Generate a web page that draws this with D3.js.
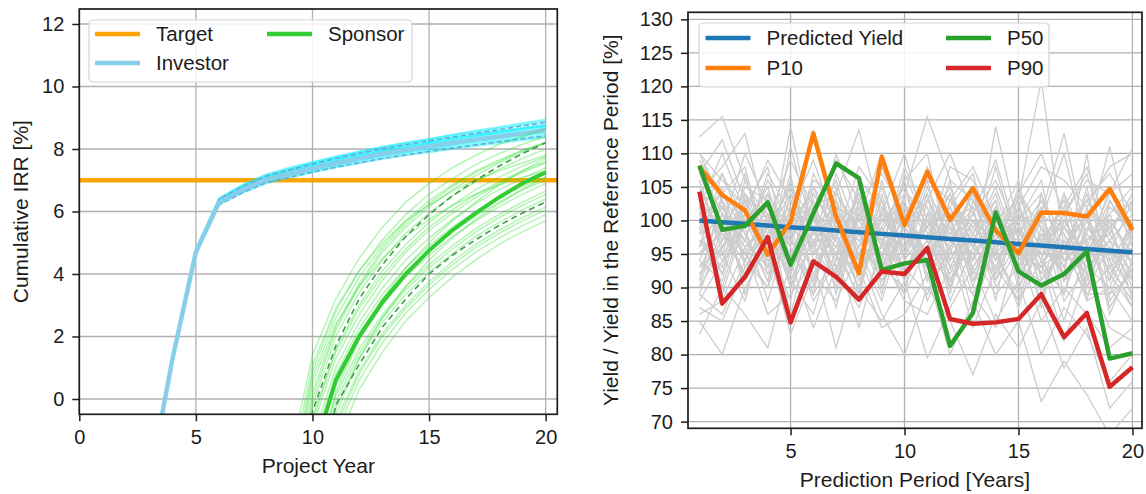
<!DOCTYPE html>
<html>
<head>
<meta charset="utf-8">
<script src="https://cdn.jsdelivr.net/npm/d3@7"></script>
<style>
  body { margin: 0; background: #fff; }
  svg { display: block; }
  text { font-family: "Liberation Sans", Arial, Helvetica, sans-serif; fill: #1c1c1c; }
</style>
</head>
<body>
<svg id="chart" width="1146" height="494"></svg>
<script>
// ---------- Left panel: cumulative IRR per project year ----------
const irrTicksX = [0, 5, 10, 15, 20];
const irrTicksY = [0, 2, 4, 6, 8, 10, 12];
const targetIrr = 7;

const investorYears = [3, 4, 5, 6, 7, 8, 9, 10, 11, 12, 13, 14, 15, 16, 17, 18, 19, 20];
const investorMedian = [-2.7, 1.3, 4.7, 6.3, 6.7, 7.02, 7.2, 7.38, 7.55, 7.7, 7.85, 7.97, 8.08, 8.2, 8.3, 8.4, 8.5, 8.6];
const investorHigh = [-2.66, 1.34, 4.76, 6.4, 6.8, 7.13, 7.33, 7.52, 7.7, 7.86, 8.01, 8.14, 8.26, 8.38, 8.5, 8.62, 8.74, 8.85];
const investorLow = [-2.74, 1.26, 4.66, 6.22, 6.6, 6.92, 7.09, 7.26, 7.42, 7.56, 7.7, 7.81, 7.92, 8.03, 8.13, 8.23, 8.33, 8.42];
const investorRuns = [
  [-2.65, 1.35, 4.8, 6.42, 6.85, 7.18, 7.4, 7.58, 7.76, 7.92, 8.07, 8.2, 8.32, 8.44, 8.55, 8.66, 8.77, 8.88],
  [-2.7, 1.3, 4.75, 6.38, 6.8, 7.12, 7.33, 7.52, 7.7, 7.86, 8.0, 8.13, 8.25, 8.37, 8.48, 8.58, 8.68, 8.78],
  [-2.7, 1.3, 4.72, 6.34, 6.75, 7.07, 7.27, 7.46, 7.63, 7.79, 7.93, 8.05, 8.17, 8.28, 8.39, 8.49, 8.59, 8.69],
  [-2.7, 1.3, 4.68, 6.27, 6.66, 6.97, 7.16, 7.34, 7.5, 7.65, 7.79, 7.9, 8.01, 8.12, 8.22, 8.31, 8.41, 8.5],
  [-2.75, 1.25, 4.65, 6.22, 6.6, 6.9, 7.08, 7.25, 7.41, 7.55, 7.68, 7.8, 7.9, 8.0, 8.1, 8.19, 8.28, 8.37],
  [-2.72, 1.28, 4.7, 6.3, 6.72, 7.05, 7.25, 7.43, 7.61, 7.77, 7.92, 8.05, 8.18, 8.3, 8.42, 8.53, 8.64, 8.74],
  [-2.68, 1.32, 4.71, 6.32, 6.7, 7.0, 7.18, 7.35, 7.51, 7.66, 7.8, 7.92, 8.04, 8.15, 8.26, 8.36, 8.46, 8.56],
  [-2.66, 1.34, 4.78, 6.4, 6.83, 7.15, 7.36, 7.56, 7.74, 7.9, 8.05, 8.19, 8.32, 8.45, 8.58, 8.7, 8.82, 8.94],
  [-2.7, 1.3, 4.69, 6.26, 6.64, 6.95, 7.13, 7.3, 7.46, 7.6, 7.73, 7.85, 7.96, 8.06, 8.16, 8.25, 8.34, 8.43],
  [-2.67, 1.33, 4.74, 6.36, 6.78, 7.1, 7.3, 7.49, 7.67, 7.83, 7.97, 8.1, 8.22, 8.34, 8.45, 8.55, 8.65, 8.75]
];

const sponsorYears = [9, 10, 11, 12, 13, 14, 15, 16, 17, 18, 19, 20];
const sponsorMedian = [-6.0, -1.85, 0.6, 2.0, 3.1, 4.0, 4.75, 5.4, 5.95, 6.45, 6.9, 7.25];
const sponsorHigh = [-4.0, -0.4, 1.7, 3.2, 4.3, 5.2, 5.9, 6.5, 7.0, 7.45, 7.85, 8.2];
const sponsorLow = [-9.0, -4.0, -0.2, 1.1, 2.3, 3.2, 4.0, 4.6, 5.1, 5.55, 5.95, 6.3];
const sponsorRuns = [
  [-2.0, 1.4, 3.2, 4.5, 5.5, 6.3, 6.9, 7.4, 7.8, 8.15, 8.4, 8.65],
  [-3.0, 0.9, 2.8, 4.1, 5.1, 5.9, 6.55, 7.05, 7.5, 7.85, 8.15, 8.4],
  [-4.0, 0.2, 2.3, 3.7, 4.8, 5.6, 6.25, 6.8, 7.25, 7.6, 7.95, 8.2],
  [-4.5, -0.2, 2.0, 3.4, 4.45, 5.3, 5.95, 6.5, 6.95, 7.35, 7.7, 8.0],
  [-5.0, -0.6, 1.6, 3.0, 4.1, 4.95, 5.65, 6.2, 6.7, 7.1, 7.45, 7.75],
  [-5.5, -0.9, 1.3, 2.7, 3.8, 4.7, 5.4, 5.95, 6.45, 6.9, 7.25, 7.55],
  [-6.0, -1.3, 1.0, 2.45, 3.55, 4.45, 5.15, 5.75, 6.25, 6.7, 7.05, 7.4],
  [-6.5, -1.6, 0.8, 2.25, 3.35, 4.2, 4.9, 5.5, 6.0, 6.45, 6.8, 7.1],
  [-7.0, -2.0, 0.4, 1.9, 3.0, 3.9, 4.6, 5.2, 5.7, 6.15, 6.55, 6.9],
  [-7.5, -2.4, 0.1, 1.6, 2.7, 3.6, 4.3, 4.9, 5.45, 5.9, 6.3, 6.65],
  [-8.0, -2.8, -0.3, 1.3, 2.45, 3.35, 4.05, 4.65, 5.2, 5.65, 6.05, 6.4],
  [-8.5, -3.2, -0.7, 0.9, 2.1, 3.0, 3.75, 4.4, 4.95, 5.4, 5.8, 6.15],
  [-9.0, -3.6, -1.1, 0.6, 1.8, 2.75, 3.5, 4.15, 4.7, 5.15, 5.55, 5.9],
  [-9.5, -4.0, -1.5, 0.3, 1.5, 2.5, 3.25, 3.9, 4.45, 4.95, 5.35, 5.7],
  [-3.5, 0.5, 2.4, 3.6, 4.5, 5.2, 5.75, 6.2, 6.55, 6.85, 7.1, 7.3],
  [-8.0, -2.6, 0.2, 1.9, 3.2, 4.2, 5.0, 5.7, 6.3, 6.85, 7.3, 7.7],
  [-2.5, 1.1, 2.9, 4.1, 5.0, 5.7, 6.2, 6.65, 7.0, 7.3, 7.55, 7.8],
  [-9.0, -3.3, -0.5, 1.3, 2.6, 3.6, 4.45, 5.15, 5.75, 6.25, 6.7, 7.1],
  [-3.2, 0.7, 2.6, 3.9, 4.9, 5.7, 6.35, 6.85, 7.3, 7.65, 7.95, 8.2],
  [-5.2, -0.7, 1.5, 2.9, 3.95, 4.8, 5.5, 6.05, 6.55, 6.95, 7.3, 7.6],
  [-6.8, -1.8, 0.6, 2.1, 3.2, 4.05, 4.75, 5.35, 5.85, 6.3, 6.7, 7.0],
  [-7.8, -2.6, -0.1, 1.45, 2.6, 3.5, 4.2, 4.8, 5.35, 5.8, 6.2, 6.55],
  [-4.2, 0.0, 2.2, 3.6, 4.7, 5.5, 6.15, 6.7, 7.15, 7.55, 7.9, 8.2],
  [-8.8, -3.4, -0.9, 0.8, 2.0, 2.9, 3.65, 4.3, 4.85, 5.3, 5.7, 6.05]
];

// ---------- Right panel: yield ratio per prediction period ----------
const periods = [1, 2, 3, 4, 5, 6, 7, 8, 9, 10, 11, 12, 13, 14, 15, 16, 17, 18, 19, 20];
const periodTicksX = [5, 10, 15, 20];
const yieldTicksY = [70, 75, 80, 85, 90, 95, 100, 105, 110, 115, 120, 125, 130];
const predictedYield = [100, 99.75, 99.5, 99.25, 99, 98.75, 98.5, 98.25, 98, 97.75, 97.5, 97.25, 97, 96.75, 96.5, 96.25, 96, 95.75, 95.5, 95.25];
const p10 = [108.0, 103.8, 101.5, 94.9, 99.8, 113.0, 100.6, 92.1, 109.5, 99.3, 107.3, 100.1, 104.8, 98.5, 95.1, 101.2, 101.1, 100.6, 104.7, 98.6];
const p50 = [108.2, 98.6, 99.2, 102.7, 93.4, 101.1, 108.5, 106.3, 92.6, 93.6, 94.1, 81.3, 86.2, 101.2, 92.4, 90.3, 92.0, 95.4, 79.4, 80.2];
const p90 = [104.3, 87.6, 91.6, 97.5, 84.8, 93.9, 91.6, 88.2, 92.4, 92.0, 95.9, 85.3, 84.6, 84.8, 85.3, 89.0, 82.6, 86.2, 75.2, 78.1];
const yieldRuns = [
  [112.5, 115.5, 106, 100, 109, 102, 104, 113.5, 100, 104, 115.5, 106, 103, 98, 104, 110, 101, 106, 104, 110.8],
  [85, 80, 90, 96, 83, 92, 88, 95, 86, 80, 90, 85, 77, 86, 81, 88, 78, 84, 72, 76],
  [104, 108, 113, 99, 105, 100, 109, 103, 107, 101, 106, 103, 108, 100, 103, 121, 96, 101, 99, 103],
  [95, 98, 94, 103, 96, 113.5, 101, 97, 93, 98, 95, 100, 94, 114, 99, 94, 104, 90, 96, 91],
  [100, 104, 108, 95, 114, 98, 95, 104, 96, 108, 100, 96, 104, 97, 93, 101, 113, 97, 100, 95],
  [90, 96, 99, 88, 100, 93, 105, 91, 99, 93, 97, 91, 97, 103, 92, 97, 92, 110, 88, 93],
  [108, 101, 97, 106, 99, 105, 97, 108, 103, 95, 108, 99, 92, 99, 106, 91, 99, 95, 103, 98],
  [97, 92, 104, 100, 90, 101, 91, 99, 89, 103, 93, 103, 99, 95, 89, 104, 94, 100, 92, 87],
  [83, 90, 86, 81, 94, 84, 93, 87, 95, 88, 86, 93, 89, 84, 96, 85, 90, 86, 81, 84],
  [102, 110, 101, 109, 103, 96, 110, 100, 110, 97, 103, 110, 101, 106, 98, 103, 96, 103, 107, 101],
  [93, 99, 92, 97, 88, 104, 99, 94, 98, 106, 91, 95, 105, 91, 101, 99, 88, 93, 97, 90],
  [106, 95, 105, 103, 97, 91, 103, 89, 104, 92, 101, 88, 96, 108, 95, 93, 101, 107, 94, 99],
  [88, 94, 97, 92, 102, 97, 87, 102, 92, 99, 95, 99, 86, 97, 103, 89, 97, 88, 90, 85],
  [110, 106, 102, 108, 92, 107, 100, 96, 101, 110, 98, 92, 100, 93, 100, 106, 91, 98, 111, 97],
  [96, 102, 95, 90, 106, 95, 107, 98, 91, 95, 105, 97, 94, 102, 90, 96, 103, 92, 99, 102],
  [99, 89, 100, 104, 98, 88, 94, 105, 97, 89, 96, 106, 91, 99, 97, 92, 95, 101, 86, 94],
  [91, 103, 89, 98, 101, 100, 96, 92, 100, 102, 88, 97, 102, 88, 104, 95, 85, 96, 93, 88],
  [105, 97, 107, 94, 95, 103, 89, 101, 94, 104, 102, 90, 98, 104, 94, 101, 98, 91, 101, 105],
  [87, 85, 93, 99, 91, 86, 98, 90, 85, 91, 79.5, 87, 93, 85, 91, 80, 87, 83, 76, 80],
  [101, 107, 98, 91, 104, 99, 92, 106, 102, 96, 99, 104, 96, 92, 99, 87, 100, 94, 105, 96],
  [94, 91, 103, 101, 93, 102, 97, 88, 106, 94, 104, 89, 103, 96, 87, 98, 93, 105, 91, 100],
  [98, 100, 91, 96, 107, 90, 102, 96, 88, 100, 94, 101, 90, 101, 96, 102, 89, 99, 95, 89],
  [86, 88, 96, 86, 89, 94, 81, 93, 84, 86, 92, 80, 88, 80, 85, 73, 79, 74, 68, 72],
  [103, 99, 110, 102, 97, 106, 104, 98, 108, 100, 97, 108, 106, 98, 102, 108, 106, 102, 108, 110],
  [109, 104, 100, 93, 111, 98, 101, 94, 96, 106, 110, 94, 101, 109, 97, 100, 110, 96, 104, 107],
  [92, 95, 88, 101, 86, 99, 90, 103, 93, 90, 100, 93, 95, 89, 93, 91, 96, 89, 89, 92],
  [89, 86, 94, 90, 99, 89, 95, 84, 97, 93, 89, 96, 84, 93, 88, 94, 82, 92, 84, 82],
  [107, 112, 103, 97, 101, 109, 99, 103, 92, 107, 99, 102, 107, 95, 105, 97, 102, 108, 98, 104],
  [95, 100, 97, 93, 99, 96, 103, 95, 100, 97, 94, 99, 95, 100, 94, 97, 99, 93, 96, 94],
  [101, 94, 99, 105, 94, 101, 95, 100, 95, 102, 99, 94, 100, 94, 99, 93, 96, 101, 92, 97],
  [98, 105, 93, 99, 102, 92, 99, 93, 103, 91, 101, 97, 93, 98, 93, 100, 91, 95, 99, 91],
  [92, 97, 101, 94, 97, 103, 93, 98, 91, 98, 93, 101, 97, 91, 97, 95, 101, 89, 93, 96],
  [104, 102, 96, 100, 93, 98, 106, 94, 98, 96, 106, 91, 99, 103, 91, 98, 94, 97, 101, 93],
  [97, 93, 106, 98, 104, 96, 91, 103, 96, 93, 97, 104, 92, 98, 100, 90, 97, 93, 90, 98],
  [89, 99, 95, 102, 95, 91, 100, 97, 101, 99, 92, 96, 101, 95, 88, 99, 92, 98, 94, 87],
  [106, 96, 102, 96, 100, 104, 98, 92, 99, 105, 98, 102, 94, 100, 98, 96, 100, 94, 97, 101],
  [94, 101, 91, 104, 91, 99, 102, 100, 94, 89, 103, 98, 104, 92, 102, 94, 89, 102, 87, 93],
  [100, 92, 104, 97, 106, 94, 96, 104, 93, 101, 95, 91, 98, 105, 95, 103, 98, 90, 100, 95],
  [91, 104, 98, 91, 98, 101, 94, 96, 105, 95, 100, 98, 89, 96, 101, 92, 104, 96, 91, 99],
  [103, 98, 92, 101, 96, 89, 104, 99, 97, 103, 91, 100, 102, 90, 96, 101, 93, 100, 96, 89],
  [96, 107, 100, 95, 103, 100, 97, 90, 102, 94, 99, 105, 96, 101, 93, 97, 102, 88, 103, 97],
  [110, 103, 97, 107, 101, 97, 93, 101, 95, 99, 104, 93, 100, 97, 104, 99, 95, 104, 93, 100],
  [93, 96, 103, 92, 94, 105, 100, 95, 99, 92, 96, 102, 93, 99, 97, 88, 100, 95, 98, 92],
  [99, 103, 94, 100, 97, 93, 98, 102, 90, 100, 102, 95, 97, 102, 92, 101, 91, 99, 95, 103],
  [102, 90, 101, 97, 92, 100, 95, 89, 101, 96, 93, 100, 91, 95, 99, 95, 97, 92, 100, 88],
  [90, 101, 96, 99, 105, 95, 99, 97, 92, 104, 97, 90, 103, 94, 100, 104, 94, 97, 89, 96],
  [107, 99, 104, 93, 99, 102, 91, 105, 98, 91, 101, 97, 95, 100, 95, 93, 99, 103, 97, 94],
  [97, 95, 99, 103, 90, 97, 101, 93, 96, 100, 95, 103, 98, 93, 102, 96, 92, 94, 102, 99]
];

// ---------- drawing ----------
const svg = d3.select("#chart");
const TICK_FONT = 20;
const LABEL_FONT = 21;
const LEGEND_FONT = 20.5;

function panel(cfg) {
  const { id, x, y, ticksX, ticksY, xLabel, yLabel, yLabelX } = cfg;
  const [x0, x1] = x.range();
  const [y1, y0] = y.range();
  const g = svg.append("g");

  g.append("clipPath").attr("id", id)
    .append("rect").attr("x", x0).attr("y", y0).attr("width", x1 - x0).attr("height", y1 - y0);

  // grid
  const grid = g.append("g").attr("stroke", "#b0b0b0").attr("stroke-width", 1.3);
  ticksX.forEach(t => grid.append("line").attr("x1", x(t)).attr("x2", x(t)).attr("y1", y0).attr("y2", y1));
  ticksY.forEach(t => grid.append("line").attr("y1", y(t)).attr("y2", y(t)).attr("x1", x0).attr("x2", x1));

  const plot = g.append("g").attr("clip-path", `url(#${id})`);

  // axes
  const ax = g.append("g").attr("transform", `translate(0,${y1})`)
    .call(d3.axisBottom(x).tickValues(ticksX).tickSize(7).tickPadding(9).tickFormat(d3.format("d")));
  const ay = g.append("g").attr("transform", `translate(${x0},0)`)
    .call(d3.axisLeft(y).tickValues(ticksY).tickSize(7).tickPadding(8).tickFormat(d3.format("d")));
  [ax, ay].forEach(a => {
    a.select(".domain").remove();
    a.selectAll(".tick line").attr("stroke", "#1c1c1c").attr("stroke-width", 1.5);
    a.selectAll(".tick text").attr("font-size", TICK_FONT).attr("fill", "#1c1c1c")
      .style("font-family", '"Liberation Sans", Arial, sans-serif');
  });

  g.append("text").attr("x", (x0 + x1) / 2).attr("y", y1 + 59)
    .attr("text-anchor", "middle").attr("font-size", LABEL_FONT).text(xLabel);
  g.append("text").attr("transform", `translate(${yLabelX},${(y0 + y1) / 2}) rotate(-90)`)
    .attr("text-anchor", "middle").attr("font-size", LABEL_FONT).text(yLabel);

  // frame drawn last, on top of everything
  const frame = () => g.append("rect").attr("x", x0).attr("y", y0).attr("width", x1 - x0).attr("height", y1 - y0)
    .attr("fill", "none").attr("stroke", "#1c1c1c").attr("stroke-width", 1.7);
  return { g, plot, frame };
}

function legend(g, box, items) {
  g.append("rect").attr("x", box.x).attr("y", box.y).attr("width", box.w).attr("height", box.h)
    .attr("rx", 4).attr("fill", "#fff").attr("fill-opacity", 0.85).attr("stroke", "#d4d4d4").attr("stroke-width", 1.2);
  items.forEach(item => {
    g.append("line").attr("x1", item.lx).attr("x2", item.lx + 45).attr("y1", item.ly).attr("y2", item.ly)
      .attr("stroke", item.color).attr("stroke-width", 4.5);
    g.append("text").attr("x", item.lx + 61).attr("y", item.ly).attr("dy", "0.35em")
      .attr("font-size", LEGEND_FONT).text(item.label);
  });
}

// ----- left -----
const xL = d3.scaleLinear().domain([0, 20.5]).range([79.3, 557.3]);
const yL = d3.scaleLinear().domain([-0.49, 12.48]).range([414.3, 9]);
const L = panel({ id: "clipL", x: xL, y: yL, ticksX: irrTicksX, ticksY: irrTicksY,
  xLabel: "Project Year", yLabel: "Cumulative IRR [%]", yLabelX: 28 });

const lineInv = d3.line().x((d, i) => xL(investorYears[i])).y(d => yL(d));
const lineSp = d3.line().x((d, i) => xL(sponsorYears[i])).y(d => yL(d));

L.plot.append("line").attr("x1", xL(0)).attr("x2", xL(20.5)).attr("y1", yL(targetIrr)).attr("y2", yL(targetIrr))
  .attr("stroke", "#ffa500").attr("stroke-width", 4.5);

investorRuns.forEach(r => L.plot.append("path").attr("d", lineInv(r)).attr("fill", "none")
  .attr("stroke", "#00f0ff").attr("stroke-opacity", 0.45).attr("stroke-width", 2.2));
[investorHigh, investorLow].forEach(r => L.plot.append("path").attr("d", lineInv(r)).attr("fill", "none")
  .attr("stroke", "#6fa3d4").attr("stroke-width", 1.5).attr("stroke-dasharray", "5,3"));
L.plot.append("path").attr("d", lineInv(investorMedian)).attr("fill", "none")
  .attr("stroke", "#87ceeb").attr("stroke-width", 4.5).attr("stroke-linejoin", "round");

sponsorRuns.forEach(r => L.plot.append("path").attr("d", lineSp(r)).attr("fill", "none")
  .attr("stroke", "#22e022").attr("stroke-opacity", 0.34).attr("stroke-width", 1.5));
[sponsorHigh, sponsorLow].forEach(r => L.plot.append("path").attr("d", lineSp(r)).attr("fill", "none")
  .attr("stroke", "#3d9b4a").attr("stroke-width", 1.6).attr("stroke-dasharray", "6,4"));
L.plot.append("path").attr("d", lineSp(sponsorMedian)).attr("fill", "none")
  .attr("stroke", "#32cd32").attr("stroke-width", 4).attr("stroke-linejoin", "round");

legend(L.g, { x: 89, y: 20, w: 323, h: 62 }, [
  { lx: 95, ly: 34, color: "#ffa500", label: "Target" },
  { lx: 95, ly: 63, color: "#87ceeb", label: "Investor" },
  { lx: 267, ly: 34, color: "#32cd32", label: "Sponsor" }
]);
L.frame();

// ----- right -----
const xR = d3.scaleLinear().domain([0.5, 20.42]).range([688, 1142]);
const yR = d3.scaleLinear().domain([69.0, 131.05]).range([428.3, 12.3]);
const R = panel({ id: "clipR", x: xR, y: yR, ticksX: periodTicksX, ticksY: yieldTicksY,
  xLabel: "Prediction Period [Years]", yLabel: "Yield / Yield in the Reference Period [%]", yLabelX: 618 });

const lineY = d3.line().x((d, i) => xR(periods[i])).y(d => yR(d));
yieldRuns.forEach(r => R.plot.append("path").attr("d", lineY(r)).attr("fill", "none")
  .attr("stroke", "#cdcdcd").attr("stroke-width", 1.3));
[[predictedYield, "#1f77b4"], [p10, "#ff7f0e"], [p50, "#2ca02c"], [p90, "#d62728"]].forEach(([s, c]) =>
  R.plot.append("path").attr("d", lineY(s)).attr("fill", "none")
    .attr("stroke", c).attr("stroke-width", 4.5).attr("stroke-linejoin", "round"));

legend(R.g, { x: 699, y: 23, w: 350, h: 64 }, [
  { lx: 705.5, ly: 38, color: "#1f77b4", label: "Predicted Yield" },
  { lx: 705.5, ly: 68, color: "#ff7f0e", label: "P10" },
  { lx: 946, ly: 38, color: "#2ca02c", label: "P50" },
  { lx: 946, ly: 68, color: "#d62728", label: "P90" }
]);
R.frame();
</script>
</body>
</html>
